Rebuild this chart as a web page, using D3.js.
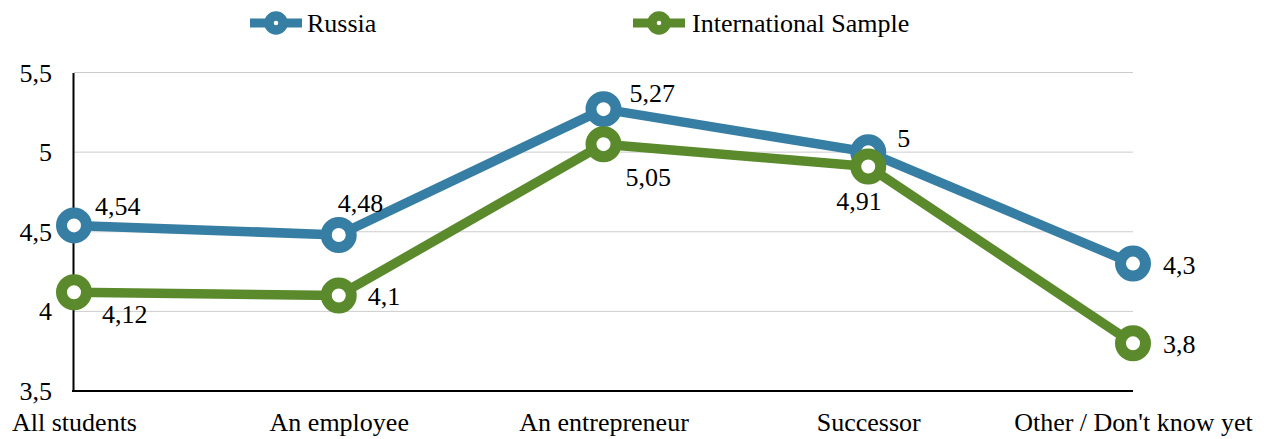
<!DOCTYPE html>
<html>
<head>
<meta charset="utf-8">
<script src="https://cdn.jsdelivr.net/npm/d3@7"></script>
<style>
  html, body { margin: 0; padding: 0; background: #fff; }
  svg { display: block; font-family: "Liberation Serif", "Times New Roman", serif; }
</style>
</head>
<body>
<svg id="chart" width="1276" height="439"></svg>
<script>
const categories = ["All students", "An employee", "An entrepreneur", "Successor", "Other / Don't know yet"];
const seriesNames = ["Russia", "International Sample"];
const russiaValues = [4.54, 4.48, 5.27, 5.0, 4.3];
const internationalValues = [4.12, 4.1, 5.05, 4.91, 3.8];
const yTicks = [3.5, 4, 4.5, 5, 5.5];
const yTickLabels = ["3,5", "4", "4,5", "5", "5,5"];
const russiaLabels = ["4,54", "4,48", "5,27", "5", "4,3"];
const internationalLabels = ["4,12", "4,1", "5,05", "4,91", "3,8"];

// styling / placement (not data)
const colors = ["#367ea3", "#5a8a2b"];
const labelOffsets = [
  [[21, -10], [-1, -23], [26, -7], [29, -5], [30, 10]],
  [[28, 31], [29, 10], [22, 42], [-32, 44], [30, 10]]
];
const serif = "Liberation Serif, Times New Roman, serif";

const svg = d3.select("#chart");
const fontSize = 26;

const x = d3.scalePoint().domain(categories).range([74, 1133]).padding(0);
const y = d3.scaleLinear().domain([3.5, 5.5]).range([391, 72.5]);

// gridlines
svg.append("g").selectAll("line").data(yTicks.slice(1)).join("line")
  .attr("x1", 74).attr("x2", 1133)
  .attr("y1", d => y(d)).attr("y2", d => y(d))
  .attr("stroke", "#cccccc").attr("stroke-width", 1);

// y axis
const yAxis = d3.axisLeft(y).tickValues(yTicks)
  .tickFormat((d, i) => yTickLabels[i]).tickSize(0).tickPadding(21);
const gy = svg.append("g").attr("transform", "translate(73,0)").call(yAxis)
  .attr("font-family", serif);
gy.select(".domain").attr("stroke", "#000").attr("stroke-width", 2);
gy.selectAll("text").attr("font-size", fontSize).attr("fill", "#000")
  .attr("font-family", serif).attr("dy", "0.33em");

// x axis
const xAxis = d3.axisBottom(x).tickSize(0).tickPadding(22);
const gx = svg.append("g").attr("transform", "translate(0,391)").call(xAxis)
  .attr("font-family", serif);
gx.select(".domain").attr("stroke", "#000").attr("stroke-width", 2)
  .attr("d", "M72,0H1133");
gx.selectAll("text").attr("font-size", fontSize).attr("fill", "#000")
  .attr("font-family", serif).attr("dy", "0.71em");

const series = [
  { name: seriesNames[0], values: russiaValues, labels: russiaLabels },
  { name: seriesNames[1], values: internationalValues, labels: internationalLabels }
];

const line = d3.line().x((d, i) => x(categories[i])).y(d => y(d));

series.forEach((s, si) => {
  const g = svg.append("g");
  g.append("path").datum(s.values)
    .attr("d", line).attr("fill", "none")
    .attr("stroke", colors[si]).attr("stroke-width", 9.5)
    .attr("stroke-linejoin", "round");
  g.selectAll("circle").data(s.values).join("circle")
    .attr("cx", (d, i) => x(categories[i])).attr("cy", d => y(d))
    .attr("r", 12.5).attr("fill", "#fff")
    .attr("stroke", colors[si]).attr("stroke-width", 11);
});

series.forEach((s, si) => {
  svg.append("g").selectAll("text").data(s.values).join("text")
    .attr("x", (d, i) => x(categories[i]) + labelOffsets[si][i][0])
    .attr("y", (d, i) => y(d) + labelOffsets[si][i][1])
    .attr("font-family", serif)
    .attr("font-size", fontSize).attr("fill", "#000")
    .text((d, i) => s.labels[i]);
});

// legend
const legendItems = [
  { lx: 250, tx: 307 },
  { lx: 633, tx: 692 }
];
series.forEach((s, si) => {
  const g = svg.append("g");
  const L = legendItems[si];
  g.append("line").attr("x1", L.lx).attr("x2", L.lx + 52)
    .attr("y1", 23).attr("y2", 23)
    .attr("stroke", colors[si]).attr("stroke-width", 9);
  g.append("circle").attr("cx", L.lx + 26).attr("cy", 23).attr("r", 7)
    .attr("fill", "#fff").attr("stroke", colors[si]).attr("stroke-width", 9.5);
  g.append("text").attr("x", L.tx).attr("y", 32).attr("font-family", serif)
    .attr("font-size", fontSize).attr("fill", "#000").text(s.name);
});
</script>
</body>
</html>
